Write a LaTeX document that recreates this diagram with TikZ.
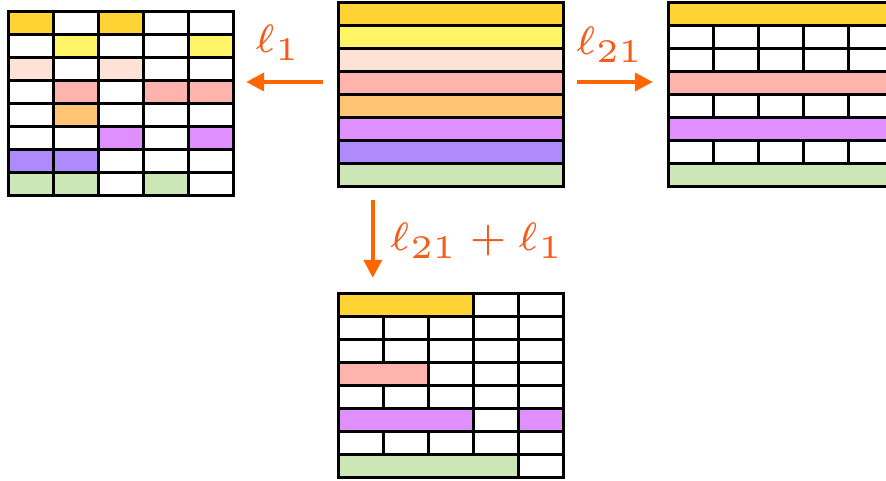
\documentclass[tikz,border=0pt]{standalone}
\usepackage{graphicx}
\usetikzlibrary{arrows.meta}

\definecolor{cgold}{RGB}{255,211,51}
\definecolor{cyel}{RGB}{255,245,102}
\definecolor{cpeach}{RGB}{255,226,214}
\definecolor{csalmon}{RGB}{255,179,173}
\definecolor{corange}{RGB}{255,197,117}
\definecolor{cviolet}{RGB}{224,143,255}
\definecolor{cpurple}{RGB}{174,138,252}
\definecolor{cgreen}{RGB}{205,230,181}
\definecolor{carrow}{RGB}{255,102,0}
\definecolor{clabel}{RGB}{245,92,28}

% one box of a table: origin x, origin y, column, row, span, fill
\newcommand{\tabcell}[6]{%
  \filldraw[cellbox, fill=#6] ({#1+#3*45},{#2+#4*23}) rectangle ++({#5*45},23);}
% large math label, set at 6pt and enlarged
\newcommand{\biglab}[1]{\scalebox{6.6}{\fontsize{6}{7}\selectfont$#1$}}

\tikzset{
  cellbox/.style={draw=black, line width=3pt},
  frame/.style={minimum width=225pt, minimum height=184pt, inner sep=0pt, draw=none},
  arr/.style={carrow, line width=4pt, -{Triangle[length=18pt,width=18pt]}},
  lab/.style={text=clabel, inner sep=0pt},
}

\begin{document}
\begin{tikzpicture}[x=1pt, y=-1pt]
\useasboundingbox (0,0) rectangle (886,481);
\clip (0,0) rectangle (886,481);

% frames used to anchor the connectors
\node[frame] (L) at (120.5,104) {};
\node[frame] (C) at (450.5,95) {};
\node[frame] (R) at (780.5,95) {};
\node[frame] (B) at (450.5,385) {};

% left table: every entry on its own
\foreach \r/\a/\b/\c/\d/\e in {
  0/cgold/white/cgold/white/white,
  1/white/cyel/white/white/cyel,
  2/cpeach/white/cpeach/white/white,
  3/white/csalmon/white/csalmon/csalmon,
  4/white/corange/white/white/white,
  5/white/white/cviolet/white/cviolet,
  6/cpurple/cpurple/white/white/white,
  7/cgreen/cgreen/white/cgreen/white}{
  \foreach \k/\cc in {0/\a,1/\b,2/\c,3/\d,4/\e}{
    \tabcell{8}{12}{\k}{\r}{1}{\cc}
  }
}

% centre table: whole rows
\foreach \r/\cc in {0/cgold,1/cyel,2/cpeach,3/csalmon,4/corange,5/cviolet,6/cpurple,7/cgreen}{
  \tabcell{338}{3}{0}{\r}{5}{\cc}
}

% right table
\foreach \r/\cc in {0/cgold,3/csalmon,5/cviolet,7/cgreen}{
  \tabcell{668}{3}{0}{\r}{5}{\cc}
}
\foreach \r in {1,2,4,6}{
  \foreach \k in {0,...,4}{
    \tabcell{668}{3}{\k}{\r}{1}{white}
  }
}

% bottom table
\foreach \r in {1,2,4,6}{
  \foreach \k in {0,...,4}{
    \tabcell{338}{293}{\k}{\r}{1}{white}
  }
}
\tabcell{338}{293}{0}{0}{3}{cgold}
\tabcell{338}{293}{3}{0}{1}{white}
\tabcell{338}{293}{4}{0}{1}{white}
\tabcell{338}{293}{0}{3}{2}{csalmon}
\foreach \k in {2,3,4}{\tabcell{338}{293}{\k}{3}{1}{white}}
\tabcell{338}{293}{0}{5}{3}{cviolet}
\tabcell{338}{293}{3}{5}{1}{white}
\tabcell{338}{293}{4}{5}{1}{cviolet}
\tabcell{338}{293}{0}{7}{4}{cgreen}
\tabcell{338}{293}{4}{7}{1}{white}

% connectors
\draw[arr, shorten <=15pt, shorten >=13pt]
  ([yshift=13pt]C.west) -- ([yshift=13pt]C.west -| L.east);
\draw[arr, shorten <=14pt, shorten >=15pt]
  ([yshift=13pt]C.east) -- ([yshift=13pt]C.east -| R.west);
\draw[arr, shorten <=13pt, shorten >=15pt]
  ([xshift=35pt]C.south west) -- ([xshift=35pt]B.north west);

% labels
\node[lab] (l1) at (278,43) {\biglab{\ell_1}};
\node[lab] (l21) at (610,45) {\biglab{\ell_{21}}};
\node[lab] (lsum) at (477,241) {\biglab{\ell_{21}+\ell_1}};
\end{tikzpicture}
\end{document}
